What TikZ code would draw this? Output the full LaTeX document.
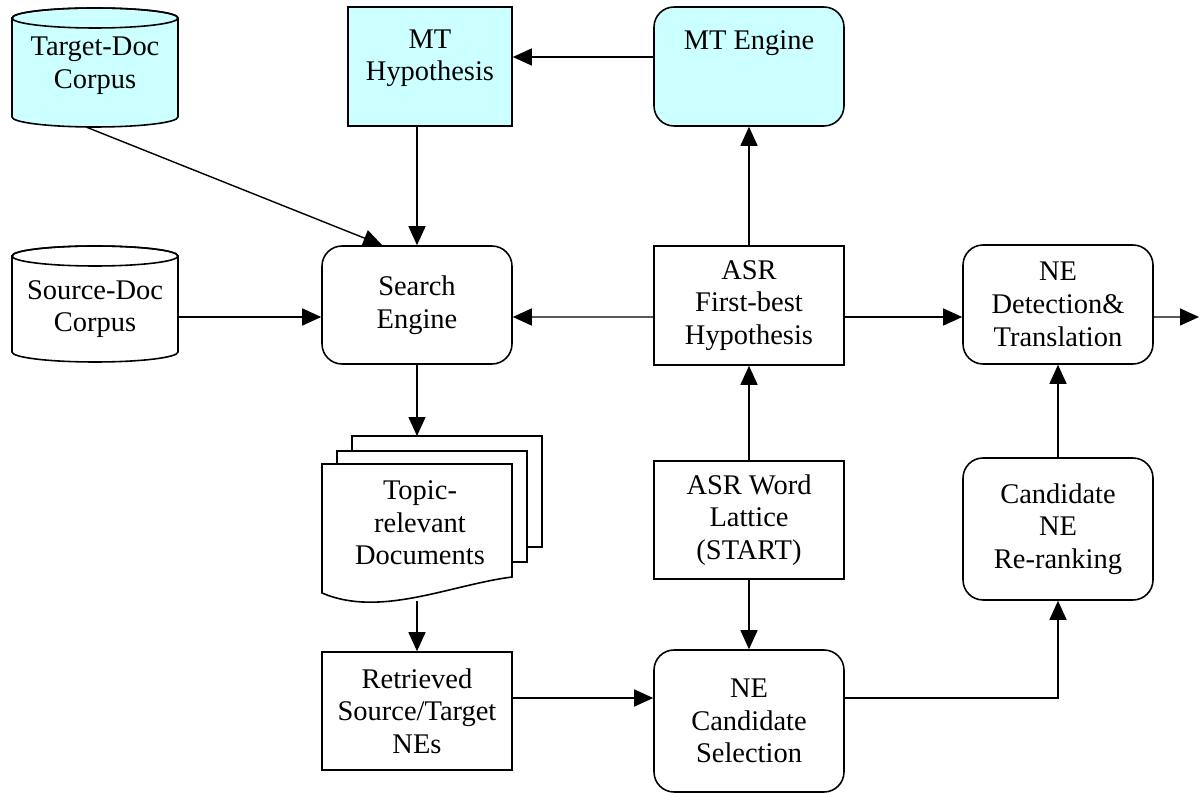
\documentclass[tikz,border=0pt]{standalone}
\usepackage{fontspec}
\setmainfont{Liberation Serif}
\usetikzlibrary{arrows.meta,calc}
\definecolor{cyanfill}{HTML}{CCFFFF}
\begin{document}
\begin{tikzpicture}[x=0.02cm,y=-0.02cm,
  every node/.style={font=\fontsize{16.2pt}{18.6pt}\selectfont, align=center, inner sep=0pt},
  box/.style={draw, line width=0.9pt, minimum width=3.8cm, minimum height=2.36cm},
  rbox/.style={box, rounded corners=0.4cm},
  shp/.style={line width=0.9pt},
  arr/.style={line width=0.8pt, -{Triangle[length=0.38cm,width=0.34cm]}}]
\useasboundingbox[fill=white] (0,0) rectangle (1201,793);

% cylinders
\filldraw[shp, fill=cyanfill] (12,18) -- (12,117) arc[start angle=180, end angle=360, x radius=1.66cm, y radius=0.2cm] -- (178,18) arc[start angle=0, end angle=180, x radius=1.66cm, y radius=0.2cm] -- cycle;
\draw[shp] (95,18) ellipse[x radius=1.66cm, y radius=0.2cm];
\node (td) at (95,66) {Target-Doc\\Corpus};
\coordinate (tdbot) at (86,127);

\filldraw[shp, fill=white] (12,256) -- (12,352) arc[start angle=180, end angle=360, x radius=1.66cm, y radius=0.2cm] -- (178,256) arc[start angle=0, end angle=180, x radius=1.66cm, y radius=0.2cm] -- cycle;
\draw[shp] (95,256) ellipse[x radius=1.66cm, y radius=0.2cm];
\node (sd) at (95,309) {Source-Doc\\Corpus};
\coordinate (sdright) at (178,317);

% boxes
\node[box, fill=cyanfill, minimum width=3.28cm, minimum height=2.38cm] (mth) at (430,66.5) {MT\\Hypothesis\\[-0.2cm]\mbox{}};
\node[rbox, fill=cyanfill, minimum height=2.38cm, text height=0.4cm, text depth=1.08cm] (mte) at (749,66.5) {MT Engine};
\node[rbox] (se) at (417,305) {Search\\Engine};
\node[box, minimum height=2.38cm] (asr) at (749,305.5) {ASR\\First-best\\Hypothesis};
\node[rbox, minimum height=2.38cm] (ned) at (1058,304.5) {NE\\Detection\&\\Translation};
\node[rbox, minimum height=2.84cm] (cnr) at (1058,529) {Candidate\\NE\\Re-ranking};
\node[box] (asrw) at (749,520) {ASR Word\\Lattice\\(START)};
\node[rbox, minimum height=2.84cm] (ncs) at (749,721) {NE\\Candidate\\Selection};
\node[box] (ret) at (417,711) {Retrieved\\Source/Target\\NEs};

% documents
\filldraw[shp, fill=white] (352,436) rectangle (542,547);
\filldraw[shp, fill=white] (337,451) rectangle (527,562);
\filldraw[shp, fill=white] (322,464) -- (322,593) .. controls (380,618) and (450,585) .. (512,577) -- (512,464) -- cycle;
\node (docs) at (420,523) {Topic-\\relevant\\Documents};
\coordinate (docstop) at (417,436);
\coordinate (docsbot) at (417,601);
\coordinate (out) at (1199,317);

% connectors
\draw[arr] ($(mte.west)+(0,-9.5)$) -- ($(mth.east)+(0,-9.5)$);
\draw[arr] ($(mth.south)+(-13,0)$) -- (se.north);
\draw[arr] (tdbot) -- ($(se.north west)+(61,0)$);
\draw[arr] (sdright) -- ($(se.west)+(0,12)$);
\draw[arr] ($(asr.west)+(0,11.5)$) -- ($(se.east)+(0,12)$);
\draw[arr] (asr.north) -- (mte.south);
\draw[arr] ($(asr.east)+(0,11.5)$) -- ($(ned.west)+(0,12.5)$);
\draw[arr] ($(ned.east)+(0,12.5)$) -- (out);
\draw[arr] (asrw.north) -- (asr.south);
\draw[arr] (asrw.south) -- (ncs.north);
\draw[arr] (cnr.north) -- (ned.south);
\draw[arr] ($(ncs.east)+(0,-23)$) -| (cnr.south);
\draw[arr] ($(ret.east)+(0,-13)$) -- ($(ncs.west)+(0,-23)$);
\draw[arr] (se.south) -- (docstop);
\draw[arr] (docsbot) -- (ret.north);
\end{tikzpicture}
\end{document}
